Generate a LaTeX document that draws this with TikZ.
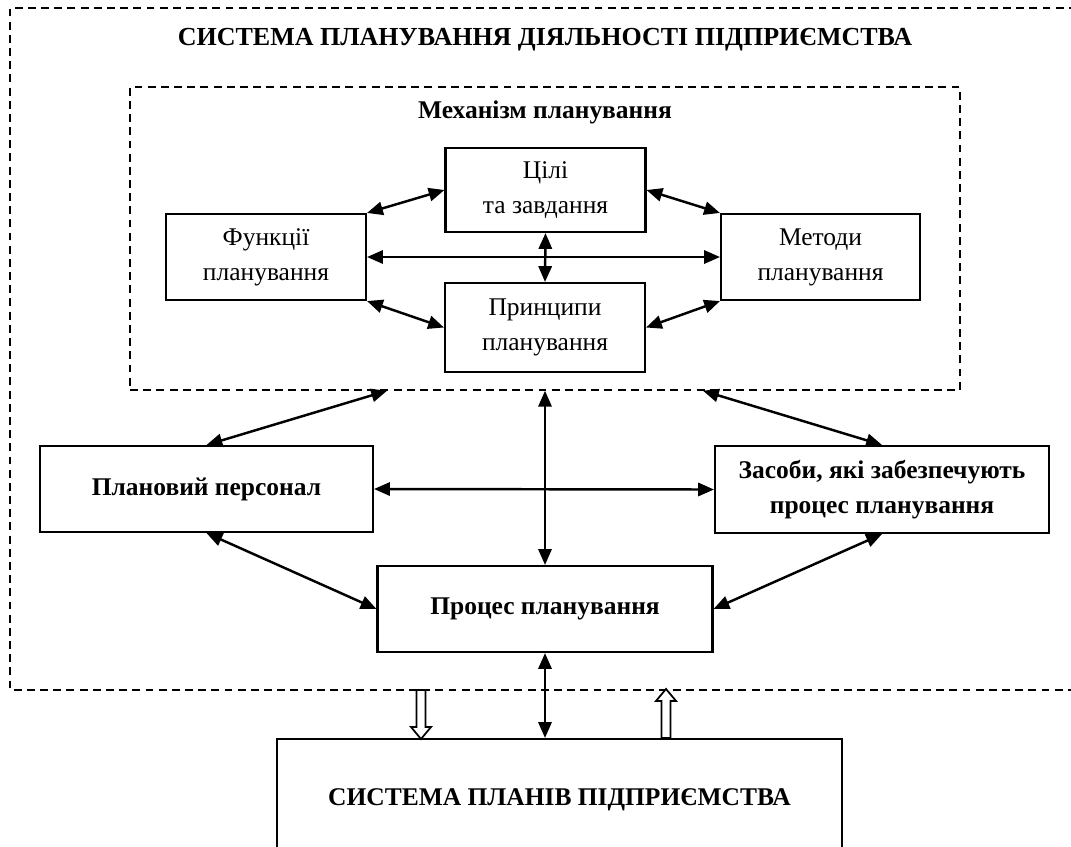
\documentclass[tikz,border=0pt]{standalone}
\usepackage{fontspec}
\setmainfont{Liberation Serif}
\usetikzlibrary{positioning,calc,arrows.meta}

\begin{document}
\begin{tikzpicture}[x=0.02cm, y=-0.02cm,
    font=\fontsize{14.5}{20}\selectfont,
    box/.style={draw, line width=1.2pt, align=center, inner sep=0pt},
    bbox/.style={box, font=\fontsize{14.5}{20}\selectfont\bfseries},
    link/.style={line width=1.4pt, {Triangle[length=9pt,width=7.5pt]}-{Triangle[length=9pt,width=7.5pt]}},
    frame/.style={line width=0.9pt, dash pattern=on 4.5pt off 3pt},
    hollow/.style={line width=1pt, fill=white}]
    \clip (0,0) rectangle (1071,846);

    % outer system
    \draw[frame] (1090,8) -- (10,8) -- (10,690) -- (1090,690);
    \node[font=\fontsize{14.8}{20}\selectfont\bfseries] (title) at (545,40) {СИСТЕМА ПЛАНУВАННЯ ДІЯЛЬНОСТІ ПІДПРИЄМСТВА};

    % mechanism
    \node[draw, frame, minimum width=16.6cm, minimum height=6.06cm] (mech) at (545,238.5) {};
    \node[font=\fontsize{14.5}{20}\selectfont\bfseries] (mechname) at (545,112) {Механізм планування};

    \node[box, minimum width=4cm, minimum height=1.68cm] (goals) at (545.5,190) {Цілі\\та завдання};
    \node[box, minimum width=4cm, minimum height=1.78cm] (princ) at (545,327.5) {Принципи\\планування};
    \node[box, minimum width=4cm, minimum height=1.72cm] (funcs) at (266,257) {Функції\\планування};
    \node[box, minimum width=3.98cm, minimum height=1.72cm] (methods) at (820.5,257) {Методи\\планування};

    \draw[link] (funcs.north east) -- (goals.west);
    \draw[link] (goals.east) -- (methods.north west);
    \draw[link] (funcs.south east) -- (princ.west);
    \draw[link] (princ.east) -- (methods.south west);
    \draw[link] (funcs.east) -- (methods.west);
    \draw[link] (goals.south) -- (princ.north);

    % staff, means, process
    \node[bbox, minimum width=6.66cm, minimum height=1.72cm] (staff) at (206.5,489) {Плановий персонал};
    \node[bbox, minimum width=6.68cm, minimum height=1.74cm] (means) at (882,489.5) {Засоби, які забезпечують\\процес планування};
    \node[bbox, minimum width=6.7cm, minimum height=1.72cm] (process) at (545,609) {Процес планування};

    \draw[link] ($(mech.south west)!0.31!(mech.south east)$) -- (staff.north);
    \draw[link] ($(mech.south west)!0.69!(mech.south east)$) -- (means.north);
    \draw[link] (mech.south) -- (process.north);
    \draw[link] (staff.east) -- (means.west);
    \draw[link] (staff.south) -- (process.west);
    \draw[link] (means.south) -- (process.east);

    % plans
    \node[bbox, minimum width=11.3cm, minimum height=2.44cm] (plans) at (559.5,800) {СИСТЕМА ПЛАНІВ ПІДПРИЄМСТВА};
    \draw[link] (process.south) -- (process.south |- plans.north);

    \coordinate (down) at (421,690);
    \coordinate (up) at ($(plans.north)+(106.5,0)$);
    \draw[hollow] (down) ++(-4.5,0) -- ++(9,0) -- ++(0,37) -- ++(5.5,0) -- ++(-10,12) -- ++(-10,-12) -- ++(5.5,0) -- cycle;
    \draw[hollow] (up) ++(-4.5,0) -- ++(9,0) -- ++(0,-37) -- ++(5.5,0) -- ++(-10,-12) -- ++(-10,12) -- ++(5.5,0) -- cycle;
\end{tikzpicture}
\end{document}
